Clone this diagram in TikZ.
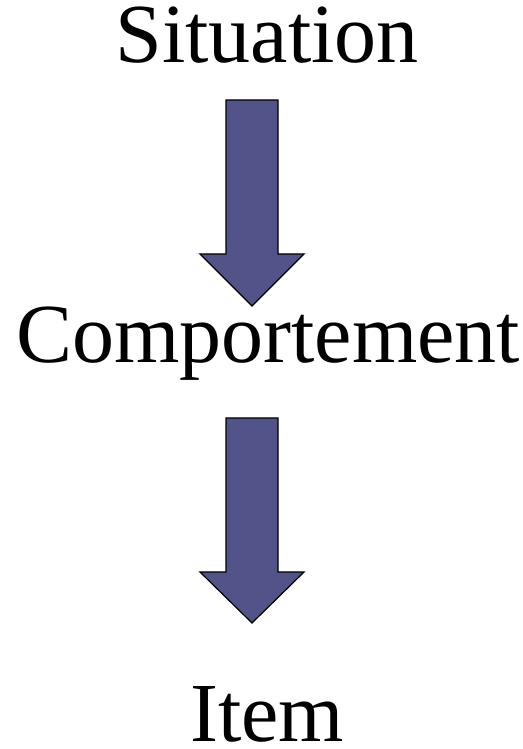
\documentclass[tikz,border=0pt]{standalone}
\usepackage{fontspec}
\setmainfont{Liberation Serif}
\definecolor{arrowfill}{HTML}{525489}
\tikzset{
  label/.style={anchor=base, inner sep=0pt, font=\fontsize{84}{100}\selectfont},
  blockarrow/.style={fill=arrowfill, draw=black, line width=1.2pt, line join=miter}
}
\begin{document}
\begin{tikzpicture}[x=1pt,y=1pt]
\useasboundingbox (0,0) rectangle (522,749);
\node[label] (sit) at (267,686) {Situation};
\node[label] (comp) at (268,386) {Comportement};
\node[label] (item) at (267,7) {Item};
% arrow 1
\draw[blockarrow] (226,649) -- (278,649) -- (278,495) -- (304,495) -- (252,443) -- (200,495) -- (226,495) -- cycle;
% arrow 2
\draw[blockarrow] (226,331) -- (278,331) -- (278,177) -- (304,177) -- (252,126) -- (200,177) -- (226,177) -- cycle;
\end{tikzpicture}
\end{document}
